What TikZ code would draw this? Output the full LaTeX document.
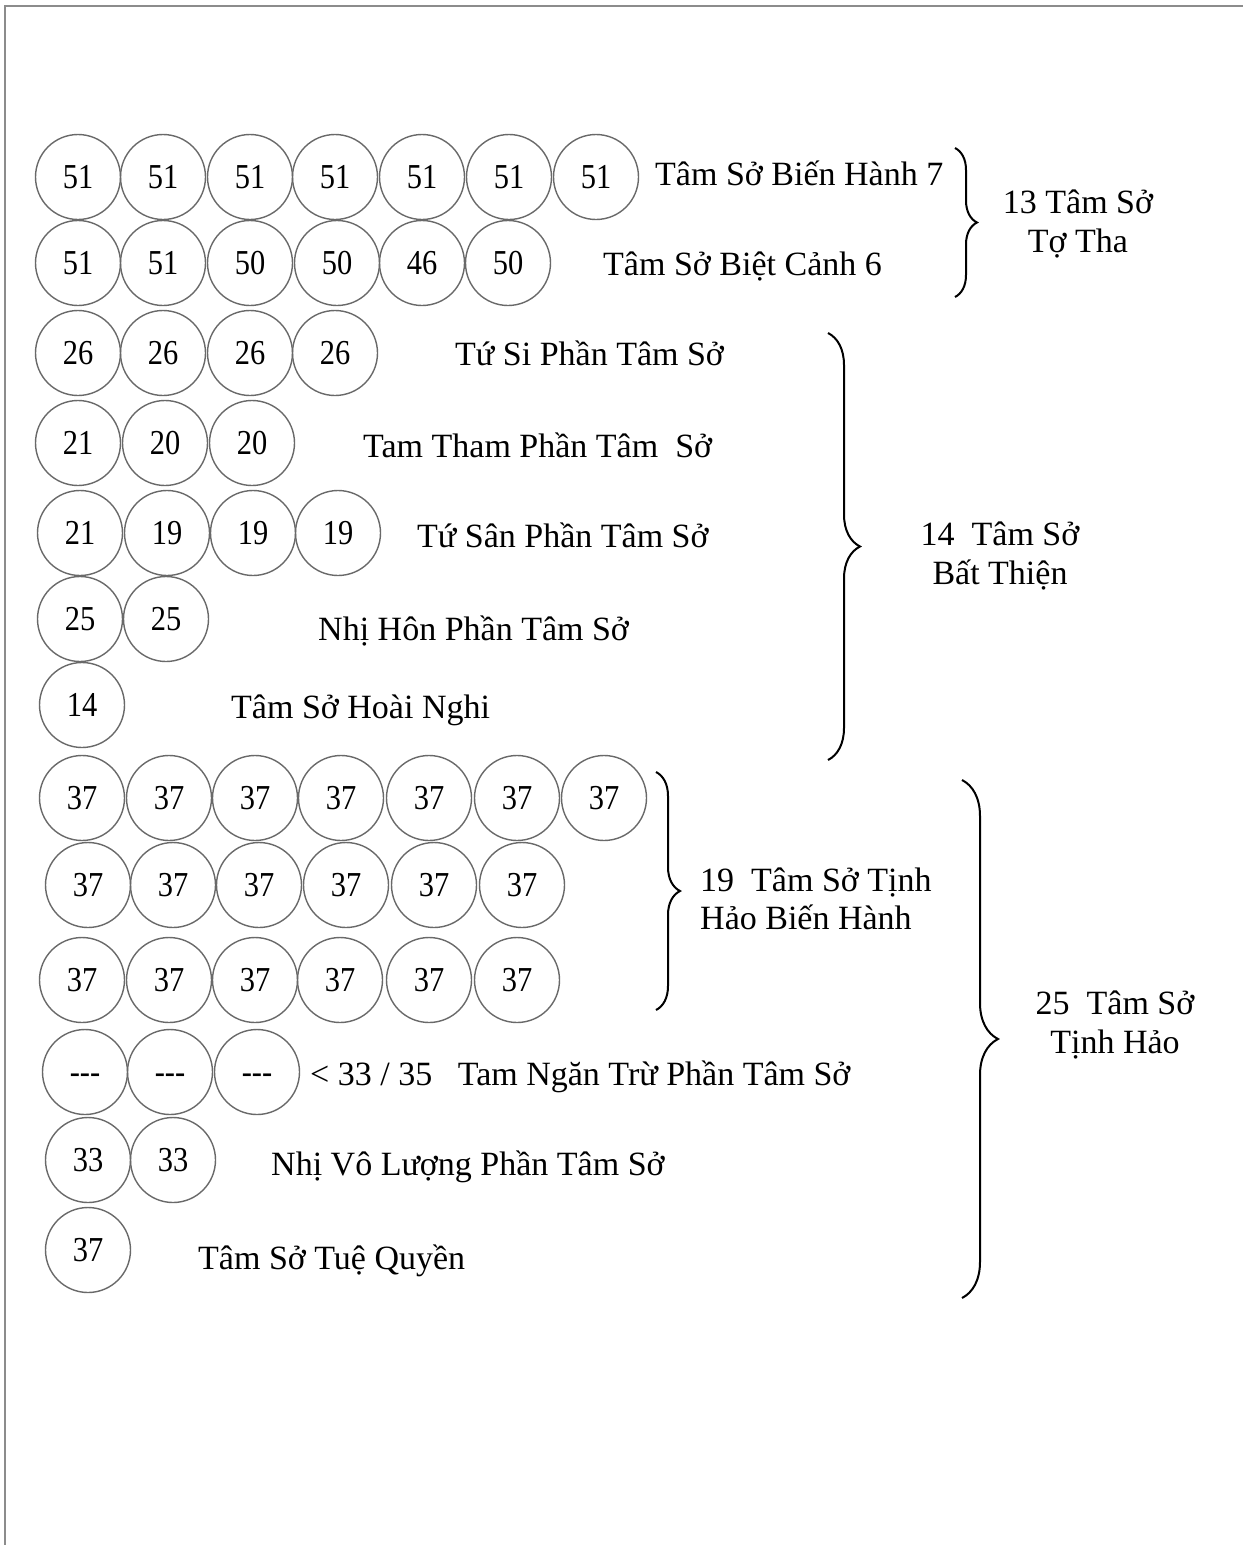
\documentclass[tikz,border=0pt]{standalone}
\usepackage{fontspec}
\setmainfont{Liberation Serif}
\newfontfamily\numfont[FakeStretch=0.87]{Liberation Serif}
\usetikzlibrary{decorations.pathreplacing}
\definecolor{circgray}{RGB}{105,105,105}
\definecolor{framegray}{RGB}{140,140,140}
\begin{document}
\begin{tikzpicture}[x=1pt,y=-1pt,
  num/.style={circle, draw=circgray, line width=1.4pt, minimum size=85pt, inner sep=0pt, font=\numfont\fontsize{35}{35}\selectfont},
  lbl/.style={anchor=base west, inner sep=0pt, font=\fontsize{34}{38}\selectfont},
  grp/.style={inner sep=0pt, font=\fontsize{34}{39}\selectfont, align=center},
  grpl/.style={inner sep=0pt, font=\fontsize{34}{38}\selectfont, align=left, anchor=west},
  brc/.style={decorate, decoration={brace, amplitude=#1}, line width=2pt}]
\useasboundingbox (0,0) rectangle (1243,1545);
\draw[framegray, line width=2.5pt] (5,1545) -- (5,6) -- (1243,6);
% rows of circles
\foreach \x [count=\i] in {78,163,250,335,422,509,596}
  \node[num] (a\i) at (\x,177) {51};
\foreach \x/\t [count=\i] in {78/51,163/51,250/50,337/50,422/46,508/50}
  \node[num] (b\i) at (\x,263) {\t};
\foreach \x [count=\i] in {78,163,250,335}
  \node[num] (c\i) at (\x,353) {26};
\foreach \x/\t [count=\i] in {78/21,165/20,252/20}
  \node[num] (d\i) at (\x,443) {\t};
\foreach \x/\t [count=\i] in {80/21,167/19,253/19,338/19}
  \node[num] (e\i) at (\x,533) {\t};
\foreach \x [count=\i] in {80,166}
  \node[num] (f\i) at (\x,619) {25};
\node[num] (g1) at (82,705) {14};
\foreach \x [count=\i] in {82,169,255,341,429,517,604}
  \node[num] (h\i) at (\x,798) {37};
\foreach \x [count=\i] in {88,173,259,346,434,522}
  \node[num] (k\i) at (\x,885) {37};
\foreach \x [count=\i] in {82,169,255,340,429,517}
  \node[num] (m\i) at (\x,980) {37};
\foreach \x [count=\i] in {85,170,257}
  \node[num] (n\i) at (\x,1072) {\vphantom{0}-{}-{}-};
\foreach \x [count=\i] in {88,173}
  \node[num] (p\i) at (\x,1160) {33};
\node[num] (q1) at (88,1250) {37};
% row labels
\node[lbl] (la) at (655,185) {Tâm Sở Biến Hành 7};
\node[lbl] (lb) at (603,275) {Tâm Sở Biệt Cảnh 6};
\node[lbl] (lc) at (455,365) {Tứ Si Phần Tâm Sở};
\node[lbl] (ld) at (363,457) {Tam Tham Phần Tâm~~Sở};
\node[lbl] (le) at (417,547) {Tứ Sân Phần Tâm Sở};
\node[lbl] (lf) at (318,640) {Nhị Hôn Phần Tâm Sở};
\node[lbl] (lg) at (231,718) {Tâm Sở Hoài Nghi};
\node[lbl] (ln) at (310,1085) {< 33 / 35~~~Tam Ngăn Trừ Phần Tâm Sở};
\node[lbl] (lp) at (271,1175) {Nhị Vô Lượng Phần Tâm Sở};
\node[lbl] (lq) at (198,1269) {Tâm Sở Tuệ Quyền};
% braces
\coordinate (b1t) at (955,148); \coordinate (b1b) at (955,297);
\draw[brc=22] (b1t) -- (b1b);
\coordinate (b2t) at (828,333); \coordinate (b2b) at (828,760);
\draw[brc=32] (b2t) -- (b2b);
\coordinate (b3t) at (656,772); \coordinate (b3b) at (656,1010);
\draw[brc=24] (b3t) -- (b3b);
\coordinate (b4t) at (962,780); \coordinate (b4b) at (962,1298);
\draw[brc=36] (b4t) -- (b4b);
% group labels
\node[grp] (g13) at (1078,224) {13 Tâm Sở\\Tợ Tha};
\node[grp] (g14) at (1000,556) {14~~Tâm Sở\\Bất Thiện};
\node[grpl] (g19) at (700,899) {19~~Tâm Sở Tịnh\\Hảo Biến Hành};
\node[grp] (g25) at (1115,1025) {25~~Tâm Sở\\Tịnh Hảo};
\end{tikzpicture}
\end{document}
